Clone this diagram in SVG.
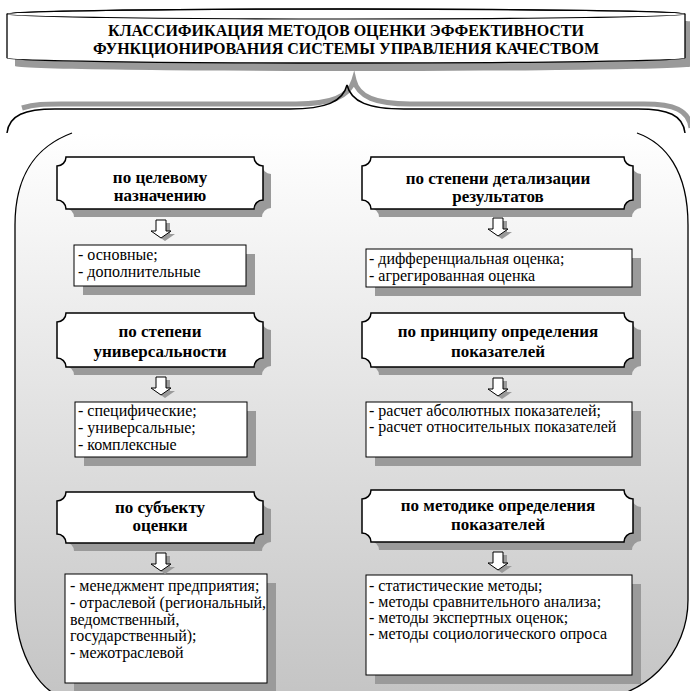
<svg xmlns="http://www.w3.org/2000/svg" width="690" height="691" viewBox="0 0 690 691" font-family="'Liberation Serif', 'Times New Roman', 'DejaVu Serif', serif">
<defs>
<style>
text{font-family:'Liberation Serif','Times New Roman','DejaVu Serif',serif;fill:#000}
.title{font-size:16px;font-weight:bold;text-anchor:middle}
.hd{font-size:17px;font-weight:bold;text-anchor:middle}
.li{font-size:16px}
.plq{fill:#fff;stroke:#000;stroke-width:1.5}
.box{fill:#fff;stroke:#000;stroke-width:1}
.sh{fill:#9a9a9a;stroke:none}
.arr{fill:#fff;stroke:#000;stroke-width:1}
</style>
<linearGradient id="bg" gradientUnits="userSpaceOnUse" x1="0" y1="133" x2="0" y2="700">
<stop offset="0" stop-color="#ffffff"/>
<stop offset="1" stop-color="#c4c4c4"/>
</linearGradient>
<path id="arrow" d="M-5,0 H5 V11 H10 L0,18 L-10,11 H-5 Z"/>
</defs>
<rect width="690" height="691" fill="#fff"/>

<g id="frame">
<path d="M72,133 C40,145 15,170 15,225 V600 A60 100 0 0 0 75,700 H588 A100 100 0 0 0 688,600 V225 C688,170 665,143 637,133 Z" fill="url(#bg)" stroke="none"/>
<path d="M72,133 C40,145 15,170 15,225 V600 A60 100 0 0 0 75,700 H588 A100 100 0 0 0 688,600 V225 C688,170 665,143 637,133" fill="none" stroke="#000" stroke-width="1.3"/>
</g>

<g id="title">
<path class="sh" d="M15,22 A339,5 0 0 1 693,22 V66 A339,5 0 0 1 15,66 Z"/>
<path d="M7,14 A339,5 0 0 1 685,14 V58 A339,5 0 0 1 7,58 Z" fill="#fff" stroke="#000" stroke-width="1.3"/>
<ellipse cx="346" cy="14" rx="339" ry="5" fill="none" stroke="#000" stroke-width="1.1"/>
<text class="title" x="346" y="36">КЛАССИФИКАЦИЯ МЕТОДОВ ОЦЕНКИ ЭФФЕКТИВНОСТИ</text>
<text class="title" x="346" y="54">ФУНКЦИОНИРОВАНИЯ СИСТЕМЫ УПРАВЛЕНИЯ КАЧЕСТВОМ</text>
</g>

<g id="brace">
<path d="M22,108 C35,104 45,104 61,104 H296 C331,104 349,97 354,80 C358,97 376,104 410,104 H644 C674,104 689,110 691,128" fill="none" stroke="#9a9a9a" stroke-width="5"/>
<path d="M7,133 C9,115 25,109 55,109 H290 C325,109 343,102 347,85 C351,102 369,109 404,109 H638 C668,109 683,115 685,133" fill="none" stroke="#000" stroke-width="1.5"/>
</g>

<g id="n-l1">
<path class="sh" transform="translate(8,8)" d="M66,157 H254 A9 9 0 0 0 263,166 V200 A9 9 0 0 0 254,209 H66 A9 9 0 0 0 57,200 V166 A9 9 0 0 0 66,157 Z"/>
<path class="plq" d="M66,157 H254 A9 9 0 0 0 263,166 V200 A9 9 0 0 0 254,209 H66 A9 9 0 0 0 57,200 V166 A9 9 0 0 0 66,157 Z"/>
<text class="hd" x="160" y="183">по целевому</text>
<text class="hd" x="160" y="201">назначению</text>
</g>
<g id="l-l1">
<rect class="sh" x="83" y="254" width="172" height="41"/>
<rect class="box" x="74" y="245" width="172" height="41"/>
<text class="li" x="78" y="260">- основные;</text>
<text class="li" x="78" y="277">- дополнительные</text>
</g>

<g id="n-l2">
<path class="sh" transform="translate(8,8)" d="M66,313 H254 A9 9 0 0 0 263,322 V358 A9 9 0 0 0 254,367 H66 A9 9 0 0 0 57,358 V322 A9 9 0 0 0 66,313 Z"/>
<path class="plq" d="M66,313 H254 A9 9 0 0 0 263,322 V358 A9 9 0 0 0 254,367 H66 A9 9 0 0 0 57,358 V322 A9 9 0 0 0 66,313 Z"/>
<text class="hd" x="160" y="337">по степени</text>
<text class="hd" x="160" y="357">универсальности</text>
</g>
<g id="l-l2">
<rect class="sh" x="84" y="411" width="172" height="55"/>
<rect class="box" x="75" y="402" width="172" height="55"/>
<text class="li" x="78" y="416">- специфические;</text>
<text class="li" x="78" y="433">- универсальные;</text>
<text class="li" x="78" y="450">- комплексные</text>
</g>

<g id="n-l3">
<path class="sh" transform="translate(8,8)" d="M66,492 H254 A9 9 0 0 0 263,501 V534 A9 9 0 0 0 254,543 H66 A9 9 0 0 0 57,534 V501 A9 9 0 0 0 66,492 Z"/>
<path class="plq" d="M66,492 H254 A9 9 0 0 0 263,501 V534 A9 9 0 0 0 254,543 H66 A9 9 0 0 0 57,534 V501 A9 9 0 0 0 66,492 Z"/>
<text class="hd" x="160" y="513">по субъекту</text>
<text class="hd" x="160" y="531">оценки</text>
</g>
<g id="l-l3">
<rect class="sh" x="74" y="583" width="202" height="109"/>
<rect class="box" x="65" y="574" width="202" height="109"/>
<text class="li" x="70" y="591">- менеджмент предприятия;</text>
<text class="li" x="70" y="608">- отраслевой (региональный,</text>
<text class="li" x="70" y="625">ведомственный,</text>
<text class="li" x="70" y="641">государственный);</text>
<text class="li" x="70" y="658">- межотраслевой</text>
</g>

<g id="n-r1">
<path class="sh" transform="translate(8,8)" d="M371,157 H624 A9 9 0 0 0 633,166 V200 A9 9 0 0 0 624,209 H371 A9 9 0 0 0 362,200 V166 A9 9 0 0 0 371,157 Z"/>
<path class="plq" d="M371,157 H624 A9 9 0 0 0 633,166 V200 A9 9 0 0 0 624,209 H371 A9 9 0 0 0 362,200 V166 A9 9 0 0 0 371,157 Z"/>
<text class="hd" x="498" y="184">по степени детализации</text>
<text class="hd" x="498" y="202">результатов</text>
</g>
<g id="l-r1">
<rect class="sh" x="375" y="258" width="266" height="38"/>
<rect class="box" x="366" y="249" width="266" height="38"/>
<text class="li" x="369" y="264">- дифференциальная оценка;</text>
<text class="li" x="369" y="281">- агрегированная оценка</text>
</g>

<g id="n-r2">
<path class="sh" transform="translate(8,8)" d="M371,313 H624 A9 9 0 0 0 633,322 V358 A9 9 0 0 0 624,367 H371 A9 9 0 0 0 362,358 V322 A9 9 0 0 0 371,313 Z"/>
<path class="plq" d="M371,313 H624 A9 9 0 0 0 633,322 V358 A9 9 0 0 0 624,367 H371 A9 9 0 0 0 362,358 V322 A9 9 0 0 0 371,313 Z"/>
<text class="hd" x="498" y="337">по принципу определения</text>
<text class="hd" x="498" y="357">показателей</text>
</g>
<g id="l-r2">
<rect class="sh" x="375" y="411" width="266" height="55"/>
<rect class="box" x="366" y="402" width="266" height="55"/>
<text class="li" x="369" y="416">- расчет абсолютных показателей;</text>
<text class="li" x="369" y="432">- расчет относительных показателей</text>
</g>

<g id="n-r3">
<path class="sh" transform="translate(8,8)" d="M371,490 H624 A9 9 0 0 0 633,499 V533 A9 9 0 0 0 624,542 H371 A9 9 0 0 0 362,533 V499 A9 9 0 0 0 371,490 Z"/>
<path class="plq" d="M371,490 H624 A9 9 0 0 0 633,499 V533 A9 9 0 0 0 624,542 H371 A9 9 0 0 0 362,533 V499 A9 9 0 0 0 371,490 Z"/>
<text class="hd" x="498" y="511">по методике определения</text>
<text class="hd" x="498" y="530">показателей</text>
</g>
<g id="l-r3">
<rect class="sh" x="375" y="584" width="266" height="100"/>
<rect class="box" x="366" y="575" width="266" height="100"/>
<text class="li" x="369" y="591">- статистические методы;</text>
<text class="li" x="369" y="607">- методы сравнительного анализа;</text>
<text class="li" x="369" y="623">- методы экспертных оценок;</text>
<text class="li" x="369" y="639">- методы социологического опроса</text>
</g>

<g id="connectors">
<use href="#arrow" class="sh" x="165" y="223"/>
<use href="#arrow" class="arr" x="161" y="220"/>
<use href="#arrow" class="sh" x="165" y="380"/>
<use href="#arrow" class="arr" x="161" y="377"/>
<use href="#arrow" class="sh" x="165" y="556"/>
<use href="#arrow" class="arr" x="161" y="553"/>
<use href="#arrow" class="sh" x="502" y="221"/>
<use href="#arrow" class="arr" x="498" y="218"/>
<use href="#arrow" class="sh" x="502" y="381"/>
<use href="#arrow" class="arr" x="498" y="378"/>
<use href="#arrow" class="sh" x="502" y="555"/>
<use href="#arrow" class="arr" x="498" y="552"/>
</g>
</svg>
